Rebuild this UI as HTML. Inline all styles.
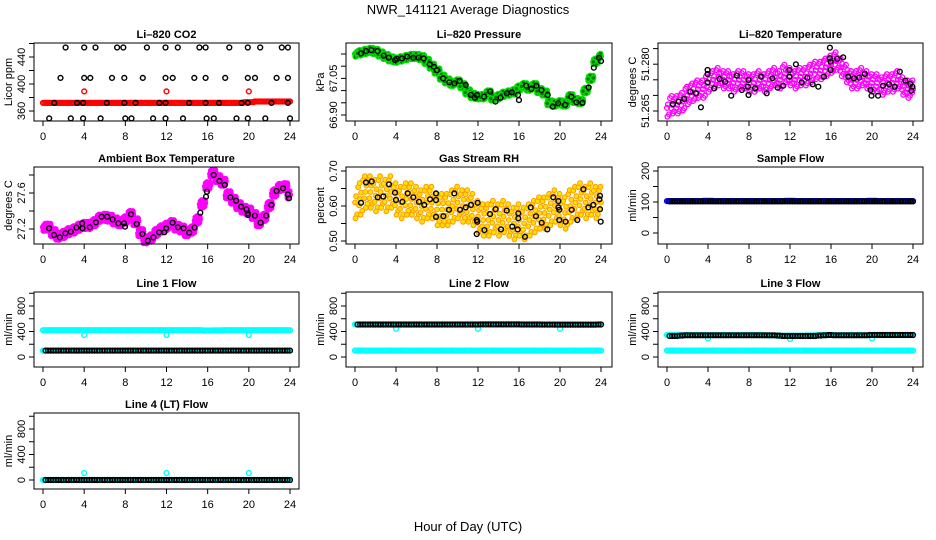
<!DOCTYPE html>
<html><head><meta charset="utf-8"><title>NWR_141121 Average Diagnostics</title>
<style>
html,body{margin:0;padding:0;background:#fff;}
svg{display:block;font-family:"Liberation Sans",Arial,sans-serif;}
.tl{font-size:11px;fill:#000;}
.tt{font-size:11px;font-weight:bold;fill:#000;}
</style></head>
<body>
<svg id="chart" width="936" height="540" viewBox="0 0 936 540" xmlns="http://www.w3.org/2000/svg">
<rect x="0" y="0" width="936" height="540" fill="#fff"/>
<text x="468" y="14" text-anchor="middle" font-size="13">NWR_141121  Average Diagnostics</text>
<text x="468" y="531" text-anchor="middle" font-size="13">Hour of Day (UTC)</text>
</svg>
<script>
// ---------- data ----------
const xTickLabels = [0,4,8,12,16,20,24];
const halfHours = [0,0.5,1,1.5,2,2.5,3,3.5,4,4.5,5,5.5,6,6.5,7,7.5,8,8.5,9,9.5,10,10.5,11,11.5,12,12.5,13,13.5,14,14.5,15,15.5,16,16.5,17,17.5,18,18.5,19,19.5,20,20.5,21,21.5,22,22.5,23,23.5,24];
const hours = [0,1,2,3,4,5,6,7,8,9,10,11,12,13,14,15,16,17,18,19,20,21,22,23,24];
const flowHours = [0.5,1,1.5,2,2.5,3,3.5,4,4.5,5,5.5,6,6.5,7,7.5,8,8.5,9,9.5,10,10.5,11,11.5,12,12.5,13,13.5,14,14.5,15,15.5,16,16.5,17,17.5,18,18.5,19,19.5,20,20.5,21,21.5,22,22.5,23,23.5,24];

// CO2
const co2RedVals = [372,372,372,372,372,372,372,372,372,372,372,372,372,372,372,372,372,372,372,372,373,374,374,374,374];
const co2RedOutX = [4,12,20];
const co2RedOutY = [389,389,389];
const co2BlackX = [2.2,4.0,5.1,7.2,7.8,10.1,11.9,13.1,15.2,15.8,18.1,19.9,21.1,23.2,23.8, 1.7,4.0,4.6,6.7,7.9,9.7,11.9,12.6,14.7,15.8,17.7,19.9,20.6,22.7,23.8, 1.1,3.3,3.9,6.2,7.9,9.0,11.3,11.9,14.2,15.8,17.1,19.3,19.9,22.2,23.8, 0.6,2.7,3.9,5.6,8.0,8.6,10.7,11.9,13.6,15.9,16.6,18.8,19.9,21.6,24.0];
const co2BlackY = [454,454,454,454,454,454,454,454,454,454,454,454,454,454,454, 409,409,409,409,409,409,409,409,409,409,409,409,409,409,409, 372,372,372,372,372,372,372,372,372,372,372,372,372,372,372, 349,349,349,349,349,349,349,349,349,349,349,349,349,349,349];

// Pressure
const presGreen = [67.15,67.155,67.16,67.165,67.16,67.15,67.14,67.13,67.125,67.13,67.135,67.14,67.14,67.135,67.12,67.10,67.08,67.055,67.04,67.03,67.035,67.02,66.995,66.98,66.975,66.975,66.99,66.97,66.975,66.985,66.99,66.995,67.01,67.02,67.01,67.02,67.00,66.99,66.95,66.945,66.95,66.945,66.975,66.96,66.955,67.0,67.05,67.12,67.14];
const presBlackX = [0.6,1.1,1.6,2.2,2.8,3.3,3.9,4.1,4.6,5.1,5.7,6.2,6.7,7.3,7.7,8.0,8.6,9.2,9.7,10.2,10.8,11.3,11.7,11.9,12.6,13.2,13.7,14.2,14.8,15.3,15.9,16.0,16.7,17.2,17.7,18.2,18.8,19.3,19.8,20.5,21.1,21.6,22.2,22.8,23.3,23.8,24.0];
const presBlackY = [67.153,67.162,67.166,67.162,67.143,67.135,67.125,67.130,67.132,67.139,67.135,67.135,67.132,67.108,67.098,67.084,67.050,67.034,67.030,67.039,67.023,66.982,66.971,66.982,66.975,66.996,66.955,66.971,66.989,66.993,66.982,66.961,67.020,67.007,67.020,67.002,66.982,66.934,66.948,66.941,66.975,66.952,66.950,67.013,67.094,67.135,67.121];

// Li-820 temperature
const tempMag = [51.266,51.267,51.267,51.268,51.270,51.271,51.272,51.272,51.274,51.275,51.276,51.275,51.275,51.274,51.275,51.275,51.274,51.274,51.275,51.274,51.275,51.276,51.275,51.277,51.276,51.275,51.276,51.276,51.277,51.278,51.278,51.279,51.280,51.281,51.279,51.277,51.275,51.275,51.276,51.275,51.274,51.274,51.273,51.274,51.274,51.275,51.273,51.272,51.272];
const tempBlackX = [0.58,1.14,1.69,2.27,2.82,3.31,3.96,3.96,3.96,4.61,5.12,5.68,6.26,6.81,7.30,7.88,7.95,7.95,8.60,9.18,9.73,10.28,10.80,11.35,11.94,11.94,12.58,13.14,13.69,14.21,14.76,15.31,15.89,15.89,15.96,15.96,16.61,17.19,17.68,18.23,18.75,19.30,19.85,19.95,20.60,21.08,21.67,22.22,22.71,23.26,23.74,23.84,23.94];
const tempBlackY = [51.26722,51.26799,51.26885,51.27119,51.27067,51.26618,51.27686,51.27814,51.27420,51.27227,51.27526,51.27440,51.26991,51.27633,51.27173,51.27280,51.27494,51.27013,51.27227,51.27600,51.27067,51.27547,51.27248,51.27312,51.27600,51.27814,51.27996,51.27420,51.27568,51.27355,51.27280,51.27600,51.28530,51.28188,51.28081,51.27814,51.28167,51.28220,51.27600,51.27547,51.27568,51.27686,51.27173,51.26991,51.26991,51.27312,51.27355,51.27280,51.27761,51.27472,51.27365,51.27152,51.27280];

// Ambient box temperature
const ambMag = [27.22,27.22,27.16,27.12,27.14,27.17,27.19,27.22,27.24,27.24,27.27,27.32,27.33,27.32,27.29,27.27,27.30,27.36,27.28,27.16,27.08,27.10,27.16,27.20,27.23,27.26,27.22,27.20,27.16,27.19,27.30,27.48,27.68,27.82,27.76,27.72,27.58,27.52,27.46,27.42,27.40,27.35,27.27,27.33,27.46,27.60,27.66,27.67,27.58];
const ambBlackX = [0.59,1.07,1.63,2.18,2.70,3.25,3.80,3.84,4.55,5.14,5.69,6.24,6.76,7.32,7.87,7.97,8.55,9.11,9.66,10.18,10.73,11.28,11.80,11.97,12.59,13.11,13.66,14.21,14.73,15.28,15.84,15.93,16.59,17.14,17.66,18.21,18.76,19.25,19.77,19.90,19.90,20.59,21.14,21.69,22.18,22.70,23.32,23.80,23.90];
const ambBlackY = [27.208,27.133,27.107,27.152,27.170,27.215,27.263,27.208,27.219,27.274,27.337,27.337,27.307,27.263,27.263,27.226,27.363,27.256,27.144,27.070,27.107,27.163,27.163,27.208,27.270,27.219,27.208,27.159,27.215,27.381,27.559,27.615,27.800,27.733,27.689,27.552,27.515,27.448,27.419,27.374,27.356,27.348,27.270,27.348,27.467,27.622,27.652,27.585,27.541];

// Gas stream RH
const rhCloud = [0.61,0.62,0.64,0.64,0.63,0.64,0.63,0.64,0.62,0.61,0.62,0.62,0.61,0.60,0.61,0.61,0.59,0.59,0.59,0.60,0.61,0.60,0.60,0.59,0.57,0.56,0.56,0.57,0.56,0.57,0.56,0.55,0.56,0.55,0.56,0.57,0.58,0.58,0.59,0.60,0.59,0.58,0.60,0.61,0.62,0.61,0.62,0.61,0.61];
const rhBlackX = [0.59,1.07,1.63,2.21,2.76,3.32,3.90,4.0,4.62,5.14,5.69,6.24,6.76,7.32,7.90,7.90,7.90,8.62,9.17,9.69,10.24,10.80,11.32,11.97,11.87,11.93,11.87,12.62,13.17,13.72,14.24,14.80,15.35,15.87,15.93,15.93,16.59,17.14,17.66,18.21,18.76,19.35,19.84,19.84,19.93,19.93,20.55,21.14,21.69,22.28,22.76,23.25,23.84,23.90,23.90,23.97];
const rhBlackY = [0.609,0.667,0.670,0.625,0.627,0.662,0.638,0.617,0.612,0.636,0.625,0.612,0.603,0.619,0.636,0.617,0.569,0.571,0.589,0.636,0.589,0.596,0.603,0.609,0.560,0.555,0.520,0.531,0.577,0.591,0.533,0.587,0.541,0.533,0.579,0.565,0.512,0.596,0.571,0.552,0.533,0.625,0.614,0.596,0.589,0.560,0.555,0.589,0.560,0.648,0.596,0.603,0.619,0.629,0.591,0.555];

// Sample flow
const sampleBlue = [103,103,103,103,104,103,103,103,103,103,103,103,104,103,103,103,103,103,103,103,104,103,103,103,103];
const sampleBlack = [102,102,102,102,102,102,102,102,102,102,102,102,102,102,102,102,102,102,102,102,102,102,102,102,102,102,102,102,102,102,102,102,102,102,102,102,102,102,102,102,102,102,102,102,102,102,102,102];

// Line flows
const line1CyanHigh = [420,420,420,420,420,420,420,420,420,420,420,420,420,420,420,420,415,418,420,420,420,420,420,420,420];
const line1CyanLow = [100,100,100,100,100,100,100,100,100,100,100,100,100,100,100,100,100,100,100,100,100,100,100,100,100];
const line1OutX = [4,12,20];
const line1OutY = [345,345,345];
const line1Black = [100,100,100,100,100,100,100,100,100,100,100,100,100,100,100,100,100,100,100,100,100,100,100,100,100,100,100,100,100,100,100,100,100,100,100,100,100,100,100,100,100,100,100,100,100,100,100,100];

const line2CyanHigh = [510,510,510,510,510,510,510,510,510,510,510,510,510,510,510,510,510,510,510,510,505,505,505,505,510];
const line2CyanLow = [100,100,100,100,100,100,100,100,100,100,100,100,100,100,100,100,100,100,100,100,100,100,100,100,100];
const line2OutX = [4,12,20];
const line2OutY = [440,440,440];
const line2Black = [510,510,510,510,510,510,510,510,510,510,510,510,510,510,510,510,510,510,510,510,510,510,510,510,512,512,512,512,512,512,512,512,510,510,510,510,508,508,508,508,508,508,508,508,508,508,508,510];

const line3CyanHigh = [345,345,345,345,345,345,345,345,345,345,340,335,335,335,340,345,345,345,345,345,345,345,345,345,345];
const line3CyanLow = [100,100,100,100,100,100,100,100,100,100,100,100,100,100,100,100,100,100,100,100,100,100,100,100,100];
const line3OutX = [4,12,20];
const line3OutY = [290,280,290];
const line3Black = [330,330,335,340,340,340,340,340,340,340,340,340,340,340,340,340,340,340,340,340,340,335,330,330,330,330,330,330,330,335,340,345,340,340,340,340,340,340,340,345,345,345,345,345,345,345,345,345];

const line4CyanLow = [0,0,0,0,0,0,0,0,0,0,0,0,0,0,0,0,0,0,0,0,0,0,0,0,0];
const line4OutX = [4,12,20];
const line4OutY = [110,110,110];
const line4Black = [0,0,0,0,0,0,0,0,0,0,0,0,0,0,0,0,0,0,0,0,0,0,0,0,0,0,0,0,0,0,0,0,0,0,0,0,0,0,0,0,0,0,0,0,0,0,0,0];

// ---------- drawing ----------
const NS = "http://www.w3.org/2000/svg";
const svg = document.getElementById('chart');
const colLeft = [34,346,658], colRight = [299,612,923];
const colX0 = [43,355,667], colX24 = [290,601,913];
const rowTop = [43,167,292,413], rowBot = [121,244,367,489];
const cloudOff = [[0,0],[-0.18,0.7],[0.18,-0.7],[-0.1,-0.45],[0.1,0.45],[0.22,0.95],[-0.22,-0.95],[0.05,-1],[-0.05,1],[0.25,0.2],[-0.25,-0.2]];
const cloudOffSparse = [[0,0],[-0.2,0.75],[0.2,-0.75],[-0.1,-0.4],[0.1,0.4],[0.05,-1],[-0.05,1]];

function el(tag, parent){ const e = document.createElementNS(NS, tag); parent.appendChild(e); return e; }

function makePanel(col, row, title, ylab, v0, p0, v1, p1, ticks, labels, name){
  const g = el('g', svg);
  
  
  const L = colLeft[col], R = colRight[col], T = rowTop[row], B = rowBot[row];
  const xs = h => colX0[col] + h * (colX24[col] - colX0[col]) / 24;
  const ys = v => p0 + (v - v0) * (p1 - p0) / (v1 - v0);
  const plot = el('g', g);
  
  
  const box = el('rect', g);
  box.setAttribute('x', L); box.setAttribute('y', T); box.setAttribute('width', R - L); box.setAttribute('height', B - T);
  box.setAttribute('fill', 'none'); box.setAttribute('stroke', '#000'); box.setAttribute('stroke-width', '1');
  
  
  const t = el('text', g);
  t.setAttribute('x', (L + R) / 2); t.setAttribute('y', T - 5); t.setAttribute('text-anchor', 'middle'); t.setAttribute('class', 'tt');
  t.textContent = title;
  
  
  const yl = el('text', g);
  yl.setAttribute('transform', 'translate(' + (L - 22) + ',' + ((T + B) / 2) + ') rotate(-90)');
  yl.setAttribute('text-anchor', 'middle'); yl.setAttribute('class', 'tl');
  yl.textContent = ylab;
  
  
  ticks.forEach(v => {
    const y = ys(v);
    const tk = el('line', g);
    tk.setAttribute('x1', L - 5); tk.setAttribute('x2', L); tk.setAttribute('y1', y); tk.setAttribute('y2', y); tk.setAttribute('stroke', '#000');
    
    
  });
  labels.forEach(lb => {
    const y = ys(lb[0]);
    const tx = el('text', g);
    tx.setAttribute('transform', 'translate(' + (L - 9) + ',' + y + ') rotate(-90)');
    tx.setAttribute('text-anchor', 'middle'); tx.setAttribute('class', 'tl');
    tx.textContent = lb[1];
    
    
  });
  const ax = el('line', g);
  ax.setAttribute('x1', xs(0)); ax.setAttribute('x2', xs(24)); ax.setAttribute('y1', B); ax.setAttribute('y2', B); ax.setAttribute('stroke', '#000');
  
  
  xTickLabels.forEach(h => {
    const x = xs(h);
    const tk = el('line', g);
    tk.setAttribute('x1', x); tk.setAttribute('x2', x); tk.setAttribute('y1', B); tk.setAttribute('y2', B + 5); tk.setAttribute('stroke', '#000');
    
    
    const tx = el('text', g);
    tx.setAttribute('x', x); tx.setAttribute('y', B + 19); tx.setAttribute('text-anchor', 'middle'); tx.setAttribute('class', 'tl');
    tx.textContent = String(h);
    
    
  });
  return {g: plot, xs, ys, L, R, T, B};
}

function dot(p, x, y, stroke, fill, name, sw){
  if (x < p.L - 2 || x > p.R + 2 || y < p.T - 3 || y > p.B + 3) return;
  const c = el('circle', p.g);
  c.setAttribute('cx', x.toFixed(1)); c.setAttribute('cy', y.toFixed(1)); c.setAttribute('r', '2.4');
  c.setAttribute('fill', fill); c.setAttribute('stroke', stroke); c.setAttribute('stroke-width', sw || '1.4');
  
  
}
function points(p, xsArr, ysArr, color, name){
  for (let i = 0; i < xsArr.length; i++) dot(p, p.xs(xsArr[i]), p.ys(ysArr[i]), color, 'none', name);
}
function cloud(p, xsArr, ysArr, spread, color, fill, name, offs, sw){
  for (let i = 0; i < xsArr.length; i++)
    offs.forEach(o => {
      const h = xsArr[i] + o[0];
      if (h < 0 || h > 24) return;
      dot(p, p.xs(h), p.ys(ysArr[i] + o[1] * spread), color, fill, name, sw);
    });
}
function band(p, xsArr, ysArr, color, name){
  const offs = [-0.45,-0.3,-0.15,0,0.15,0.3,0.45];
  for (let i = 0; i < xsArr.length; i++)
    offs.forEach(d => { const h = xsArr[i] + d; if (h < 0 || h > 24) return; dot(p, p.xs(h), p.ys(ysArr[i]), color, 'none', name); });
}
function seq(p, xsArr, ysArr, color, name){
  for (let i = 0; i < xsArr.length; i++) {
    dot(p, p.xs(xsArr[i]), p.ys(ysArr[i]), color, 'none', name);
    dot(p, p.xs(xsArr[i]) - 2.5, p.ys(ysArr[i]), color, 'none', name);
  }
}

const flowTicks = [0,200,400,600,800,1000];
const flowLabels = [[0,'0'],[400,'400'],[800,'800']];

// Row 1
let p = makePanel(0,0,'Li\u2013820 CO2','Licor ppm',400,84,440,57,[360,380,400,420,440,460],[[360,'360'],[400,'400'],[440,'440']],'co2');
band(p, hours, co2RedVals, '#ff0000', 'co2-red-series');
points(p, co2RedOutX, co2RedOutY, '#ff0000', 'co2-red-outlier');
points(p, co2BlackX, co2BlackY, '#000', 'co2-black-point');

p = makePanel(1,0,'Li\u2013820 Pressure','kPa',66.90,115,67.10,66.2,[66.90,66.95,67.00,67.05,67.10,67.15],[[66.90,'66.90'],[67.05,'67.05']],'pressure');
cloud(p, halfHours, presGreen, 0.011, '#00e000', '#007700', 'pressure-green-point', cloudOff);
points(p, presBlackX, presBlackY, '#000', 'pressure-black-point');

p = makePanel(2,0,'Li\u2013820 Temperature','degrees C',51.265,111,51.280,64.2,[51.265,51.270,51.275,51.280,51.285],[[51.265,'51.265'],[51.280,'51.280']],'li820-temp');
cloud(p, halfHours, tempMag, 0.0028, '#ff00ff', 'none', 'li820-temp-magenta-point', cloudOffSparse, '1.3');
points(p, tempBlackX, tempBlackY, '#000', 'li820-temp-black-point');

// Row 2
p = makePanel(0,1,'Ambient Box Temperature','degrees C',27.2,229,27.6,193,[27.2,27.4,27.6,27.8],[[27.2,'27.2'],[27.6,'27.6']],'ambient-temp');
cloud(p, halfHours, ambMag, 0.04, '#ff00ff', '#ff00ff', 'ambient-magenta-point', cloudOff);
points(p, ambBlackX, ambBlackY, '#000', 'ambient-black-point');

p = makePanel(1,1,'Gas Stream RH','percent',0.5,241,0.7,171,[0.50,0.55,0.60,0.65,0.70],[[0.50,'0.50'],[0.60,'0.60'],[0.70,'0.70']],'gas-rh');
cloud(p, halfHours, rhCloud, 0.045, '#ff9900', '#ffe000', 'gas-rh-orange-point', cloudOffSparse, '1');
points(p, rhBlackX, rhBlackY, '#000', 'gas-rh-black-point');

p = makePanel(2,1,'Sample Flow','ml/min',0,233,200,171,[0,50,100,150,200],[[0,'0'],[100,'100'],[200,'200']],'sample-flow');
band(p, hours, sampleBlue, '#0000ff', 'sample-flow-blue-point');
seq(p, flowHours, sampleBlack, '#000', 'sample-flow-black-point');

// Row 3
p = makePanel(0,2,'Line 1 Flow','ml/min',0,357,800,306,flowTicks,flowLabels,'line1-flow');
band(p, hours, line1CyanHigh, '#00ffff', 'line1-cyan-high-point');
band(p, hours, line1CyanLow, '#00ffff', 'line1-cyan-low-point');
points(p, line1OutX, line1OutY, '#00ffff', 'line1-cyan-outlier');
seq(p, flowHours, line1Black, '#000', 'line1-black-point');

p = makePanel(1,2,'Line 2 Flow','ml/min',0,357,800,306,flowTicks,flowLabels,'line2-flow');
band(p, hours, line2CyanHigh, '#00ffff', 'line2-cyan-high-point');
band(p, hours, line2CyanLow, '#00ffff', 'line2-cyan-low-point');
points(p, line2OutX, line2OutY, '#00ffff', 'line2-cyan-outlier');
seq(p, flowHours, line2Black, '#000', 'line2-black-point');

p = makePanel(2,2,'Line 3 Flow','ml/min',0,357,800,306,flowTicks,flowLabels,'line3-flow');
band(p, hours, line3CyanHigh, '#00ffff', 'line3-cyan-high-point');
band(p, hours, line3CyanLow, '#00ffff', 'line3-cyan-low-point');
points(p, line3OutX, line3OutY, '#00ffff', 'line3-cyan-outlier');
seq(p, flowHours, line3Black, '#000', 'line3-black-point');

// Row 4
p = makePanel(0,3,'Line 4 (LT) Flow','ml/min',0,480,800,429,flowTicks,flowLabels,'line4-flow');
band(p, hours, line4CyanLow, '#00ffff', 'line4-cyan-point');
points(p, line4OutX, line4OutY, '#00ffff', 'line4-cyan-outlier');
seq(p, flowHours, line4Black, '#000', 'line4-black-point');
</script>
</body></html>
